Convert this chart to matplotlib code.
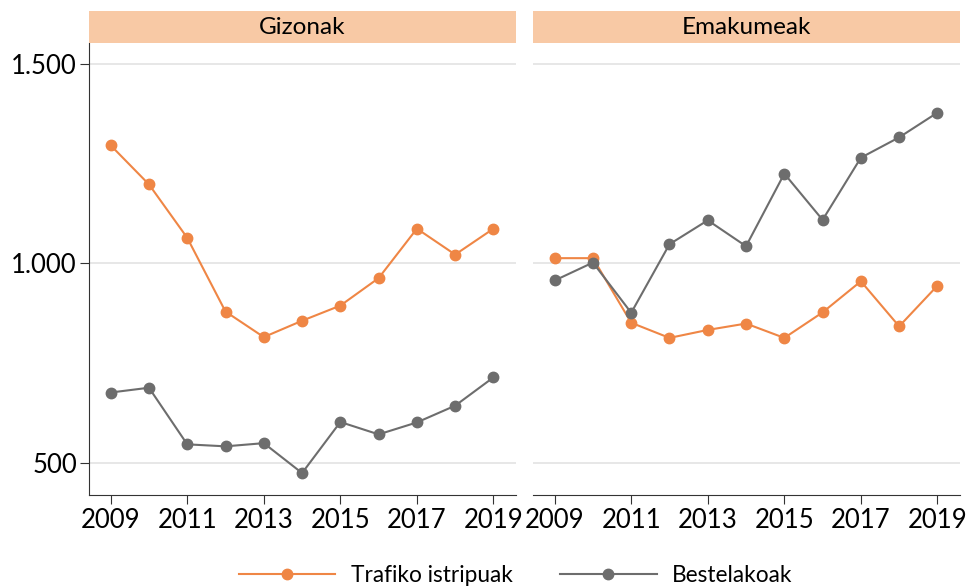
import matplotlib
matplotlib.use("Agg")
from matplotlib import pyplot as plt
from matplotlib.ticker import FuncFormatter

plt.rcParams['font.family'] = ['Lato', 'DejaVu Sans']

years = list(range(2009, 2020))
panels = ['Gizonak', 'Emakumeak']
series_names = ['Trafiko istripuak', 'Bestelakoak']

gizonak_trafiko = [1296, 1198, 1064, 879, 815, 856, 894, 963, 1087, 1022, 1087]
gizonak_beste = [676, 688, 546, 541, 549, 474, 602, 571, 601, 643, 714]
emakumeak_trafiko = [1013, 1013, 851, 813, 833, 849, 813, 877, 955, 842, 944]
emakumeak_beste = [957, 1002, 876, 1048, 1108, 1043, 1225, 1109, 1265, 1316, 1378]

data = {
    'Gizonak': [gizonak_trafiko, gizonak_beste],
    'Emakumeak': [emakumeak_trafiko, emakumeak_beste],
}

colors = ['#EF8645', '#6D6D6D']
strip_color = '#F8C9A5'
grid_color = '#E3E3E3'


def thousands(v, pos):
    return f"{int(v):,}".replace(',', '.')


fig = plt.figure(figsize=(9.66, 5.88), dpi=100)

lefts = [0.0918, 0.5514]
width = 0.4424
bottom = 0.1582
height = 0.7682
strip_h = 0.0549

handles = []
for i, name in enumerate(panels):
    ax = fig.add_axes([lefts[i], bottom, width, height])
    for j, vals in enumerate(data[name]):
        h, = ax.plot(years, vals, color=colors[j], lw=1.5, marker='o',
                     markersize=7.5, label=series_names[j], zorder=3)
        if i == 0:
            handles.append(h)
    ax.set_xlim(2008.425, 2019.59)
    ax.set_ylim(419, 1552)
    ax.set_yticks([500, 1000, 1500])
    ax.set_xticks([2009, 2011, 2013, 2015, 2017, 2019])
    ax.yaxis.set_major_formatter(FuncFormatter(thousands))
    ax.grid(axis='y', color=grid_color, lw=1.2)
    ax.set_axisbelow(True)
    for s in ['top', 'right']:
        ax.spines[s].set_visible(False)
    ax.spines['bottom'].set_color('#333333')
    ax.spines['left'].set_color('#333333')
    ax.tick_params(axis='both', labelsize=18.5, color='#333333', length=6.5)
    ax.tick_params(axis='y', pad=2)
    ax.tick_params(axis='x', pad=3)
    if i == 1:
        ax.spines['left'].set_visible(False)
        ax.tick_params(axis='y', left=False, labelleft=False)

    sax = fig.add_axes([lefts[i], bottom + height, width, strip_h])
    sax.set_facecolor(strip_color)
    sax.set_xticks([])
    sax.set_yticks([])
    for s in sax.spines.values():
        s.set_visible(False)
    sax.text(0.5, 0.5, name, ha='center', va='center', fontsize=17.5,
             transform=sax.transAxes)

fig.legend(handles=handles, loc='center', bbox_to_anchor=(0.534, 0.022),
           ncol=2, frameon=False, fontsize=16.3, handlelength=4.25,
           handletextpad=0.7, columnspacing=2.1)

fig.savefig('out.png', dpi=100)
